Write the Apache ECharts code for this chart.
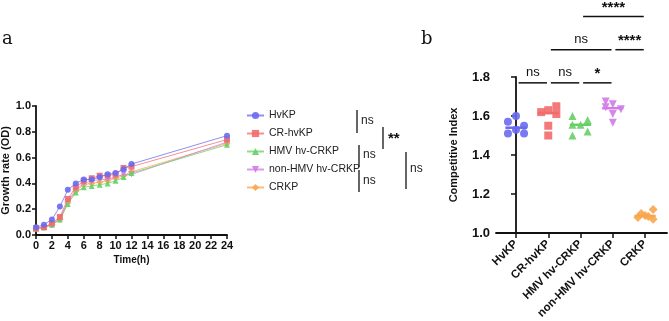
<!DOCTYPE html>
<html>
<head>
<meta charset="utf-8">
<script src="https://cdn.jsdelivr.net/npm/echarts@6.0.0/dist/echarts.min.js"></script>
<style>
html, body { margin: 0; padding: 0; background: #fff; }
#main { width: 669px; height: 321px; }
</style>
</head>
<body>
<div id="main"></div>
<script>
// panel a: growth curves (OD over time)
var hours = [0, 1, 2, 3, 4, 5, 6, 7, 8, 9, 10, 11, 12, 24];
var odHvKP   = [0.06, 0.08, 0.12, 0.22, 0.35, 0.40, 0.43, 0.43, 0.45, 0.47, 0.48, 0.51, 0.55, 0.77];
var odCRhvKP = [0.05, 0.06, 0.09, 0.14, 0.28, 0.37, 0.42, 0.44, 0.46, 0.46, 0.47, 0.52, 0.53, 0.74];
var odHMV    = [0.05, 0.06, 0.08, 0.12, 0.24, 0.33, 0.37, 0.38, 0.39, 0.40, 0.42, 0.45, 0.48, 0.70];
var odNonHMV = [0.05, 0.06, 0.08, 0.13, 0.26, 0.35, 0.40, 0.42, 0.43, 0.43, 0.45, 0.47, 0.47, 0.72];
var odCRKP   = [0.05, 0.06, 0.08, 0.12, 0.25, 0.34, 0.39, 0.40, 0.41, 0.42, 0.44, 0.46, 0.49, 0.71];

// panel b: competitive index
var strains = ['HvKP', 'CR-hvKP', 'HMV hv-CRKP', 'non-HMV hv-CRKP', 'CRKP'];
var ciHvKP   = [1.60, 1.57, 1.55, 1.53, 1.51, 1.51];
var ciCRhvKP = [1.65, 1.63, 1.62, 1.61, 1.55, 1.50];
var ciHMV    = [1.60, 1.58, 1.555, 1.555, 1.52, 1.50];
var ciNonHMV = [1.675, 1.66, 1.645, 1.635, 1.61, 1.565];
var ciCRKP   = [1.12, 1.10, 1.09, 1.085, 1.08, 1.07];

// significance bars in panel b: from group, to group, text
var sigFrom = [0, 1, 2, 1, 3, 2];
var sigTo   = [1, 2, 3, 3, 4, 4];
var sigText = ['ns', 'ns', '*', 'ns', '****', '****'];

var colors = ['#6a6af0', '#f26c6c', '#66d066', '#d27ae8', '#f8a64e'];
var symbols = ['circle', 'rect', 'triangle', 'triangle', 'diamond'];
var rotates = [0, 0, 0, 180, 0];
var odAll = [odHvKP, odCRhvKP, odHMV, odNonHMV, odCRKP];
var ciAll = [ciHvKP, ciCRhvKP, ciHMV, ciNonHMV, ciCRKP];

// horizontal spread of dots inside each column (layout only)
var spread = [
    [0, -0.25, 0.25, 0, -0.25, 0.25],
    [0.25, 0, -0.22, 0.25, 0, 0],
    [-0.25, 0.22, -0.25, 0, 0.22, -0.25],
    [-0.22, 0, -0.22, 0.25, 0, 0],
    [0.25, -0.12, 0, 0.1, -0.22, 0.25]
];
var sigLevel = [0, 0, 0, 1, 1, 2];

function median(arr) {
    var s = arr.slice().sort(function (a, b) { return a - b; });
    var n = s.length;
    return n % 2 ? s[(n - 1) / 2] : (s[n / 2 - 1] + s[n / 2]) / 2;
}

var font = 'Arial, "Liberation Sans", sans-serif';
var chart = echarts.init(document.getElementById('main'));

var series = [];
strains.forEach(function (name, k) {
    series.push({
        name: name,
        type: 'line',
        xAxisIndex: 0,
        yAxisIndex: 0,
        data: hours.map(function (h, j) { return [h, odAll[k][j]]; }),
        symbol: symbols[k],
        symbolRotate: rotates[k],
        symbolSize: k === 4 ? 7 : 6,
        showSymbol: true,
        itemStyle: { color: colors[k], opacity: 0.9 },
        lineStyle: { color: colors[k], width: 1, opacity: 0.75 },
        z: 5 - k
    });
});
strains.forEach(function (name, k) {
    series.push({
        name: name + ' CI',
        type: 'scatter',
        xAxisIndex: 1,
        yAxisIndex: 1,
        data: ciAll[k].map(function (v, j) { return [k + spread[k][j], v]; }),
        symbol: symbols[k],
        symbolRotate: rotates[k],
        symbolSize: k === 4 ? 9 : 8,
        itemStyle: { color: colors[k], opacity: 0.9 }
    });
});
// median lines
series.push({
    type: 'custom',
    xAxisIndex: 1,
    yAxisIndex: 1,
    clip: false,
    data: ciAll.map(function (arr, k) { return [k, median(arr)]; }),
    renderItem: function (params, api) {
        var p1 = api.coord([api.value(0) - 0.33, api.value(1)]);
        var p2 = api.coord([api.value(0) + 0.33, api.value(1)]);
        return {
            type: 'line',
            shape: { x1: p1[0], y1: p1[1], x2: p2[0], y2: p2[1] },
            style: { stroke: colors[params.dataIndex], lineWidth: 2.5 }
        };
    },
    z: 10
});
// significance bars
series.push({
    type: 'custom',
    xAxisIndex: 1,
    yAxisIndex: 1,
    clip: false,
    data: sigFrom.map(function (f, i) { return [f, sigTo[i], 1.77 + sigLevel[i] * 0.17]; }),
    encode: { x: [0, 1], y: 2 },
    renderItem: function (params, api) {
        var y = api.value(2);
        var p1 = api.coord([api.value(0) + 0.08, y]);
        var p2 = api.coord([api.value(1) - 0.04, y]);
        var txt = sigText[params.dataIndex];
        var star = txt.charAt(0) === '*';
        return {
            type: 'group',
            children: [{
                type: 'line',
                shape: { x1: p1[0], y1: p1[1], x2: p2[0], y2: p2[1] },
                style: { stroke: '#111', lineWidth: 1.5 }
            }, {
                type: 'text',
                style: {
                    text: txt,
                    x: (p1[0] + p2[0]) / 2,
                    y: p1[1] - (star ? 1 : 4),
                    align: 'center',
                    verticalAlign: 'bottom',
                    fill: '#111',
                    font: (star ? 'bold 15px ' : '13px ') + font
                }
            }]
        };
    }
});

var axisLineStyle = { lineStyle: { color: '#111', width: 1.8 } };
var tickStyle = { show: true, inside: false, length: 4, lineStyle: { color: '#111', width: 1.5 } };

var option = {
    animation: false,
    backgroundColor: '#fff',
    textStyle: { fontFamily: font },
    grid: [
        { left: 36, top: 106, width: 191, height: 129, outerBoundsMode: 'none' },
        { left: 496, top: 77, width: 171, height: 156, outerBoundsMode: 'none' }
    ],
    legend: {
        data: strains,
        orient: 'vertical',
        left: 241,
        top: 105,
        itemWidth: 17,
        itemHeight: 9,
        itemGap: 7,
        textStyle: { fontSize: 10.5, color: '#222', fontFamily: font }
    },
    xAxis: [{
        type: 'value',
        gridIndex: 0,
        min: 0,
        max: 24,
        interval: 2,
        name: 'Time(h)',
        nameLocation: 'middle',
        nameGap: 20,
        nameTextStyle: { fontSize: 10, fontWeight: 'bold', color: '#111' },
        axisLine: axisLineStyle,
        axisTick: tickStyle,
        splitLine: { show: false },
        axisLabel: { fontSize: 11, fontWeight: 'bold', color: '#111', margin: 5 }
    }, {
        type: 'value',
        gridIndex: 1,
        min: -0.62,
        max: 4.68,
        axisLine: axisLineStyle,
        axisTick: { show: true, length: 5, lineStyle: { color: '#111', width: 1.5 }, customValues: [0, 1, 2, 3, 4] },
        splitLine: { show: false },
        axisLabel: {
            customValues: [0, 1, 2, 3, 4],
            formatter: function (v) { return strains[Math.round(v)]; },
            rotate: 45,
            fontSize: 11.5,
            fontWeight: 'bold',
            color: '#111',
            margin: 9
        }
    }],
    yAxis: [{
        type: 'value',
        gridIndex: 0,
        min: 0,
        max: 1,
        interval: 0.2,
        name: 'Growth rate (OD)',
        nameLocation: 'middle',
        nameGap: 24,
        nameTextStyle: { fontSize: 11, fontWeight: 'bold', color: '#111' },
        axisLine: { show: true, lineStyle: { color: '#111', width: 1.8 } },
        axisTick: tickStyle,
        splitLine: { show: false },
        axisLabel: {
            fontSize: 11, fontWeight: 'bold', color: '#111', margin: 5,
            formatter: function (v) { return v.toFixed(1); }
        }
    }, {
        type: 'value',
        gridIndex: 1,
        min: 1.0,
        max: 1.8,
        interval: 0.2,
        name: 'Competitive Index',
        nameLocation: 'middle',
        nameGap: 37,
        nameTextStyle: { fontSize: 11, fontWeight: 'bold', color: '#111' },
        axisLine: { show: true, lineStyle: { color: '#111', width: 1.8 } },
        axisTick: { show: true, length: 5, lineStyle: { color: '#111', width: 1.5 } },
        splitLine: { show: false },
        axisLabel: {
            fontSize: 13, fontWeight: 'bold', color: '#111', margin: 6,
            formatter: function (v) { return v.toFixed(1); }
        }
    }],
    graphic: [
        { type: 'text', left: 2, top: 30, style: { text: 'a', font: '18px "DejaVu Serif", "Liberation Serif", serif', fill: '#111' } },
        { type: 'text', left: 421, top: 30, style: { text: 'b', font: '18px "DejaVu Serif", "Liberation Serif", serif', fill: '#111' } },
        // significance brackets beside the legend of panel a
        { type: 'line', shape: { x1: 357, y1: 110, x2: 357, y2: 133 }, style: { stroke: '#333', lineWidth: 1.5 } },
        { type: 'text', left: 361, top: 115, style: { text: 'ns', font: '12px ' + font, fill: '#222' } },
        { type: 'line', shape: { x1: 383, y1: 127, x2: 383, y2: 149 }, style: { stroke: '#333', lineWidth: 1.5 } },
        { type: 'text', left: 388, top: 131, style: { text: '**', font: 'bold 15px ' + font, fill: '#111' } },
        { type: 'line', shape: { x1: 359, y1: 145, x2: 359, y2: 167 }, style: { stroke: '#333', lineWidth: 1.5 } },
        { type: 'text', left: 363, top: 149, style: { text: 'ns', font: '12px ' + font, fill: '#222' } },
        { type: 'line', shape: { x1: 359, y1: 170, x2: 359, y2: 192 }, style: { stroke: '#333', lineWidth: 1.5 } },
        { type: 'text', left: 363, top: 175, style: { text: 'ns', font: '12px ' + font, fill: '#222' } },
        { type: 'line', shape: { x1: 406, y1: 152, x2: 406, y2: 189 }, style: { stroke: '#333', lineWidth: 1.5 } },
        { type: 'text', left: 410, top: 163, style: { text: 'ns', font: '12px ' + font, fill: '#222' } }
    ],
    series: series
};

chart.setOption(option);
</script>
</body>
</html>
